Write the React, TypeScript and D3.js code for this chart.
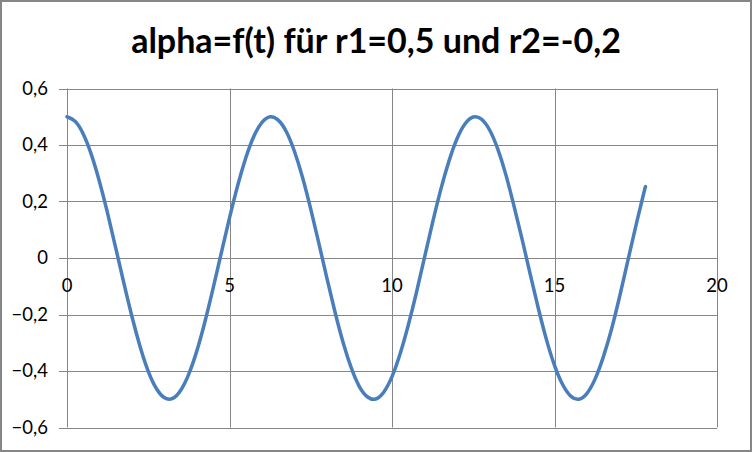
import React from "react";
import * as d3 from "d3";

const title = "alpha=f(t) für r1=0,5 und r2=-0,2";

// t values (s)
const tValues = [
  0, 0.25, 0.5, 0.75, 1, 1.25, 1.5, 1.75, 2, 2.25, 2.5, 2.75, 3, 3.25, 3.5, 3.75,
  4, 4.25, 4.5, 4.75, 5, 5.25, 5.5, 5.75, 6, 6.25, 6.5, 6.75, 7, 7.25, 7.5, 7.75,
  8, 8.25, 8.5, 8.75, 9, 9.25, 9.5, 9.75, 10, 10.25, 10.5, 10.75, 11, 11.25, 11.5, 11.75,
  12, 12.25, 12.5, 12.75, 13, 13.25, 13.5, 13.75, 14, 14.25, 14.5, 14.75, 15, 15.25, 15.5, 15.75,
  16, 16.25, 16.5, 16.75, 17, 17.25, 17.5, 17.75, 17.8,
];

// alpha values
const alphaValues = [
  0.5, 0.484, 0.439, 0.366, 0.27, 0.158, 0.035, -0.089, -0.208, -0.314, -0.401, -0.462, -0.495, -0.497, -0.468, -0.41,
  -0.327, -0.223, -0.105, 0.019, 0.142, 0.256, 0.354, 0.431, 0.48, 0.5, 0.488, 0.447, 0.377, 0.284, 0.173, 0.052,
  -0.073, -0.193, -0.301, -0.39, -0.456, -0.492, -0.499, -0.474, -0.42, -0.339, -0.238, -0.123, 0.002, 0.126, 0.242, 0.342,
  0.422, 0.475, 0.499, 0.492, 0.454, 0.387, 0.296, 0.186, 0.068, -0.056, -0.177, -0.288, -0.38, -0.448, -0.489, -0.5,
  -0.479, -0.428, -0.351, -0.254, -0.138, -0.013, 0.112, 0.231, 0.252,
];

const xTicks = [0, 5, 10, 15, 20];
const yTicks = [0.6, 0.4, 0.2, 0, -0.2, -0.4, -0.6];

const width = 752;
const height = 452;
const font = "Lato, 'Open Sans', sans-serif";
const gridColor = "#868686";

export default function App() {
  const x = d3.scaleLinear().domain([0, 20]).range([67, 717]);
  const y = d3.scaleLinear().domain([-0.6, 0.6]).range([427.5, 88.5]);
  const fmtY = (v: number) => (Math.abs(v) < 1e-9 ? "0" : d3.format(".1f")(v).replace(".", ","));
  const fmtX = (v: number) => String(v);

  const pts: [number, number][] = tValues.map((t, i) => [t, alphaValues[i]]);
  const line = d3
    .line<[number, number]>()
    .x((d) => x(d[0]))
    .y((d) => y(d[1]))
    .curve(d3.curveNatural);

  return (
    <svg
      width={width}
      height={height}
      style={{ position: "absolute", left: 0, top: 0, background: "#fff" }}
    >
      <rect x={1} y={1} width={width - 2} height={height - 2} fill="#fff" stroke={gridColor} strokeWidth={2} />
      <text x={376} y={53} textAnchor="middle" fontFamily={font} fontWeight="bold" fontSize={34} fill="#000">
        {title}
      </text>

      {/* horizontal grid + left ticks */}
      {yTicks.map((v) => (
        <g key={"y" + v}>
          <line x1={59} x2={717} y1={Math.round(y(v)) + 0.5} y2={Math.round(y(v)) + 0.5} stroke={gridColor} />
          <text
            x={48}
            y={y(v)}
            dy="0.35em"
            textAnchor="end"
            fontFamily={font}
            fontSize={18.5}
            fill="#000"
          >
            {fmtY(v)}
          </text>
        </g>
      ))}

      {/* vertical grid */}
      {xTicks.map((v) => (
        <g key={"x" + v}>
          <line x1={Math.round(x(v)) + 0.5} x2={Math.round(x(v)) + 0.5} y1={88.5} y2={427.5} stroke={gridColor} />
          <text x={x(v)} y={y(0) + 28} dy="0.35em" textAnchor="middle" fontFamily={font} fontSize={18.5} fill="#000">
            {fmtX(v)}
          </text>
        </g>
      ))}

      <path d={line(pts) ?? ""} fill="none" stroke="#4a7ebb" strokeWidth={3.5} strokeLinecap="round" />
    </svg>
  );
}
